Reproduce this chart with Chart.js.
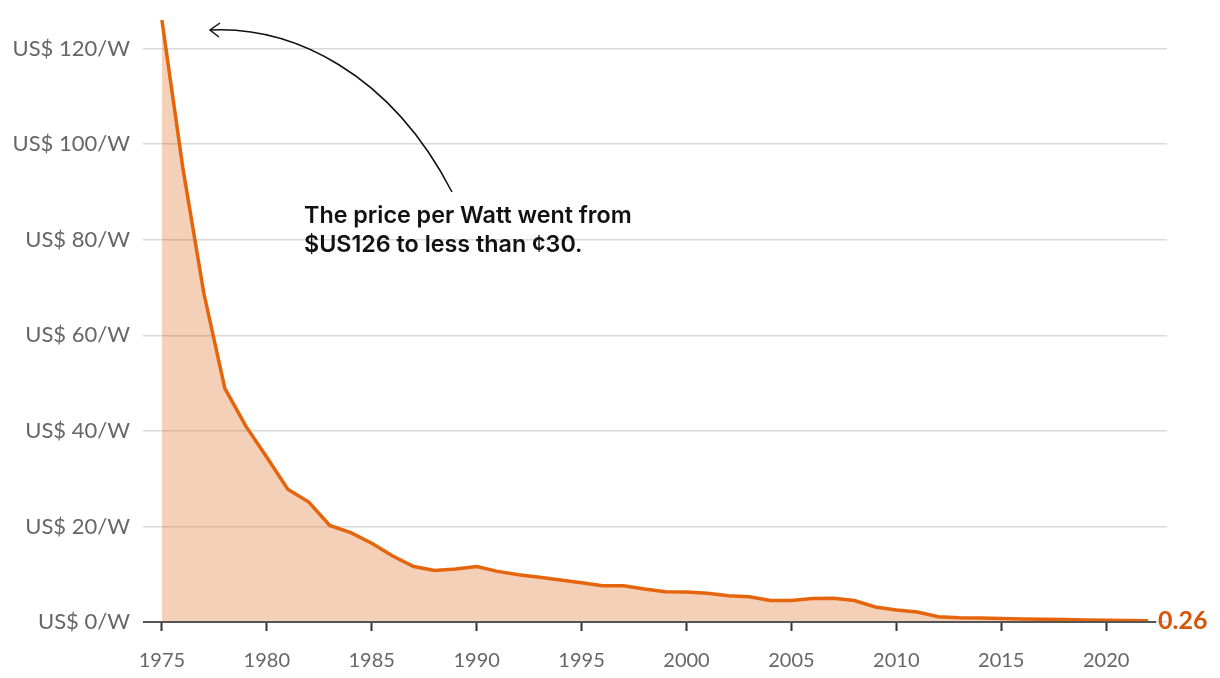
<!DOCTYPE html>
<html>
<head>
<meta charset="utf-8">
<script src="https://cdn.jsdelivr.net/npm/chart.js@4/dist/chart.umd.min.js"></script>
<style>
html,body{margin:0;padding:0;background:#fff;}
#wrap{width:1220px;height:678px;position:relative;}
</style>
</head>
<body>
<div id="wrap"><canvas id="c" width="1220" height="678"></canvas></div>
<script>
const years = [1975,1976,1977,1978,1979,1980,1981,1982,1983,1984,1985,1986,1987,1988,1989,1990,1991,1992,1993,1994,1995,1996,1997,1998,1999,2000,2001,2002,2003,2004,2005,2006,2007,2008,2009,2010,2011,2012,2013,2014,2015,2016,2017,2018,2019,2020,2021,2022];
const pricePerWatt = [126,95,68.8,48.9,41,34.5,27.8,25.1,20.2,18.7,16.5,13.8,11.6,10.8,11.1,11.6,10.6,9.9,9.35,8.8,8.2,7.6,7.6,6.9,6.35,6.3,6.0,5.5,5.3,4.5,4.5,4.9,4.95,4.5,3.15,2.5,2.1,1.1,0.9,0.85,0.75,0.65,0.58,0.5,0.42,0.36,0.3,0.26];
const yTicks = [0,20,40,60,80,100,120];
const xTicks = [1975,1980,1985,1990,1995,2000,2005,2010,2015,2020];
const annotationLines = ["The price per Watt went from", "$US126 to less than \u00a230."];
const endLabel = "0.26";

const LINE = '#E6640B';
const FONT = "Lato, 'Open Sans', sans-serif";

const overlay = {
  id: 'overlay',
  afterDatasetsDraw(chart) {
    const ctx = chart.ctx, x = chart.scales.x, y = chart.scales.y;
    const ca = chart.chartArea;
    const y0 = y.getPixelForValue(0);
    const xEnd = x.getPixelForValue(years[years.length-1]) + 8;
    ctx.save();
    ctx.strokeStyle = '#555';
    ctx.lineWidth = 2;
    ctx.beginPath(); ctx.moveTo(ca.left, y0); ctx.lineTo(xEnd, y0); ctx.stroke();
    ctx.fillStyle = '#D4560A';
    ctx.font = "bold 25px " + FONT;
    ctx.textBaseline = 'middle';
    ctx.textAlign = 'left';
    ctx.fillText(endLabel, xEnd + 2, y0 - 1);
    ctx.fillStyle = '#111';
    ctx.font = "600 23.3px Inter, 'Open Sans', sans-serif";
    ctx.textBaseline = 'alphabetic';
    ctx.fillText(annotationLines[0], 304, 223);
    ctx.fillText(annotationLines[1], 304, 252);
    const sx = 452, sy = 192, ex = 210, ey = 30;
    ctx.strokeStyle = '#111';
    ctx.lineWidth = 1.5;
    ctx.beginPath();
    ctx.moveTo(sx, sy);
    ctx.bezierCurveTo(390, 72, 292, 26, ex, ey);
    ctx.stroke();
    ctx.beginPath();
    ctx.moveTo(220, 23); ctx.lineTo(ex, ey); ctx.lineTo(219, 37);
    ctx.stroke();
    ctx.restore();
  }
};

new Chart(document.getElementById('c'), {
  type: 'line',
  data: {
    datasets: [{
      data: years.map((yr,i)=>({x:yr, y:pricePerWatt[i]})),
      borderColor: LINE,
      borderWidth: 3.5,
      backgroundColor: 'rgba(222,100,22,0.3)',
      fill: 'origin',
      pointRadius: 0,
      tension: 0
    }]
  },
  options: {
    responsive: false,
    animation: false,
    devicePixelRatio: 1,
    layout: { padding: { left: 0, right: 53, top: 20, bottom: 0 } },
    plugins: { legend: { display: false }, tooltip: { enabled: false } },
    scales: {
      x: {
        type: 'linear',
        min: 1974.1,
        max: 2022.9,
        afterBuildTicks: s => { s.ticks = xTicks.map(v=>({value:v})); },
        afterFit: s => { s.height = 56; s.paddingLeft = 0; s.paddingRight = 0; },
        grid: { drawOnChartArea: false, drawTicks: true, tickLength: 9, tickColor: '#333', tickWidth: 2 },
        border: { display: false },
        ticks: { color: '#666', font: { family: FONT, size: 20 }, padding: 18, maxRotation: 0, callback: v => String(v) }
      },
      y: {
        min: 0,
        max: 126,
        afterBuildTicks: s => { s.ticks = yTicks.map(v=>({value:v})); },
        afterFit: s => { s.width = 143; s.paddingTop = 0; s.paddingBottom = 0; },
        grid: { color: '#d9d9d9', lineWidth: 1.5, drawTicks: false },
        border: { display: false },
        ticks: { color: '#666', font: { family: FONT, size: 22 }, padding: 13, callback: v => 'US$ ' + v + '/W' }
      }
    }
  },
  plugins: [overlay]
});
</script>
</body>
</html>
